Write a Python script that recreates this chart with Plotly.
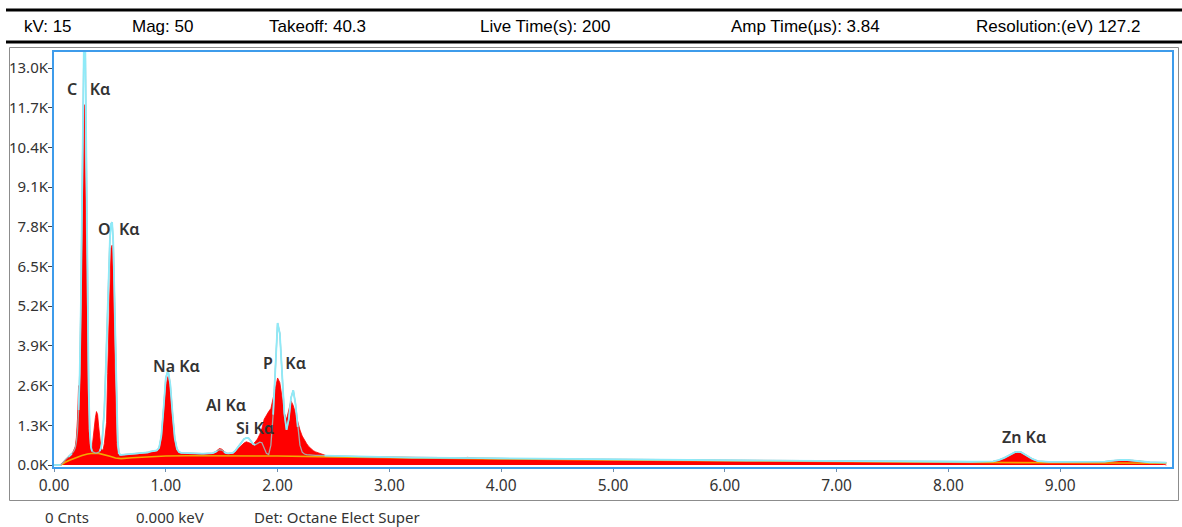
import numpy as np
import plotly.graph_objects as go

# ---------------- data ----------------
# Energy grid pieces (keV)
energy_a = [round(i * 0.01, 2) for i in range(61)]            # 0.00 .. 0.60
energy_b = [round(0.62 + i * 0.02, 2) for i in range(100)]     # 0.62 .. 2.60
energy_c = [2.7, 2.8, 2.9, 3.0, 3.1, 3.2, 3.3, 3.4, 3.5, 3.6, 3.7, 3.8, 3.9, 4.0,
            4.2, 4.4, 4.6, 4.8, 5.0, 5.2, 5.4, 5.6, 5.8, 6.0, 6.2, 6.4, 6.6, 6.8,
            7.0, 7.2, 7.4, 7.6, 7.8, 8.0, 8.2, 8.4, 8.45, 8.5, 8.55, 8.6, 8.65,
            8.7, 8.75, 8.8, 8.85, 8.9, 9.0, 9.1, 9.2, 9.3, 9.4, 9.45, 9.5, 9.55,
            9.6, 9.65, 9.7, 9.75, 9.8, 9.85, 9.9, 9.95]

# Measured spectrum counts (red)
counts_a = [0, 0, 0, 0, 0, 0, 20, 60, 100, 150,
            180, 220, 250, 280, 300, 330, 380, 430, 500, 600,
            900, 1500, 2600, 2100, 4600, 7800, 9100, 11800, 9000, 5200,
            2400, 1200, 700, 500, 550, 900, 1300, 1550, 1750, 1650,
            1250, 850, 550, 480, 520, 700, 1150, 1400, 3000, 4600,
            6200, 7100, 7200, 6300, 3800, 1700, 700, 380, 320, 300,
            300]
counts_b = [320, 330, 330, 340, 340, 350, 350, 360, 360, 370,
            380, 400, 430, 450, 430, 450, 550, 900, 1700, 2600,
            2900, 2500, 1600, 800, 480, 400, 380, 370, 370, 370,
            370, 365, 365, 360, 360, 360, 360, 360, 360, 370,
            380, 420, 470, 540, 520, 440, 390, 370, 360, 380,
            450, 520, 560, 650, 720, 760, 740, 700, 680, 760,
            850, 1000, 1200, 1500, 1650, 1750, 1850, 2200, 2600, 2850,
            2700, 2200, 1700, 1500, 1800, 2100, 1950, 1650, 1350, 1150,
            950, 800, 700, 600, 520, 470, 430, 400, 370, 340,
            320, 300, 290, 282, 276, 272, 268, 265, 262, 260]
counts_c = [255, 262, 245, 240, 235, 230, 226, 222, 218, 214, 250, 208, 204, 200,
            195, 190, 182, 176, 170, 164, 158, 152, 146, 140, 135, 130, 126, 122,
            118, 114, 110, 106, 102, 98, 95, 110, 150, 220, 310, 410, 400,
            300, 190, 120, 105, 115, 92, 90, 88, 86, 90, 100, 120, 130,
            145, 150, 130, 90, 70, 60, 50, 0]

# Fitted spectrum (cyan / grey outline)
fit_a = [0, 0, 0, 0, 0, 0, 0, 40, 90, 130,
         170, 210, 240, 270, 300, 330, 370, 420, 480, 560,
         750, 1100, 1800, 3000, 5200, 8600, 12400, 14600, 13600, 9800,
         5400, 2500, 1100, 600, 450, 420, 400, 390, 390, 400,
         420, 460, 560, 760, 1150, 1800, 2800, 4000, 5300, 6500,
         7400, 7900, 7950, 7300, 5700, 3600, 1800, 800, 420, 340,
         330]
fit_b = [335, 340, 345, 350, 355, 360, 365, 370, 375, 385,
         395, 410, 440, 460, 455, 480, 560, 950, 1850, 2850,
         3100, 2650, 1700, 880, 520, 420, 395, 390, 385, 385,
         385, 380, 380, 378, 376, 375, 375, 375, 375, 380,
         390, 420, 460, 500, 490, 430, 390, 380, 380, 400,
         460, 560, 660, 770, 850, 890, 880, 790, 690, 660,
         710, 750, 730, 560, 380, 340, 650, 1650, 3000, 4650,
         4300, 3000, 1700, 1150, 1500, 2200, 2450, 2000, 1250, 650,
         420, 360, 340, 330, 325, 320, 318, 315, 312, 310,
         308, 306, 304, 300, 297, 294, 291, 288, 285, 282]
fit_c = [275, 268, 262, 256, 250, 245, 240, 236, 232, 228, 226, 222, 218, 214,
         208, 202, 196, 190, 184, 178, 172, 166, 160, 154, 148, 143, 138, 134,
         130, 126, 122, 118, 114, 110, 107, 120, 160, 235, 330, 430, 420,
         310, 200, 130, 110, 104, 100, 98, 96, 95, 110, 135, 160, 170,
         165, 145, 120, 100, 90, 85, 80, 78]

# Background (orange/yellow)
bg_energy = [0.06, 0.10, 0.15, 0.20, 0.25, 0.30, 0.35, 0.40, 0.45, 0.50, 0.55,
             0.60, 0.70, 0.80, 1.0, 1.2, 1.5, 2.0, 2.5, 3.0, 4.0, 5.0, 6.0,
             7.0, 8.0, 9.0, 9.95]
bg_counts = [0, 90, 170, 250, 310, 360, 385, 380, 340, 290, 230,
             210, 240, 265, 295, 305, 310, 295, 265, 240, 200, 165, 135,
             110, 90, 72, 60]

# Peak labels
peak_labels = ["C\u00a0\u00a0\u00a0Kα", "O\u00a0\u00a0Kα", "Na Kα", "Al Kα",
               "Si Kα", "P\u00a0\u00a0\u00a0Kα", "Zn Kα"]

# Axis ticks
x_ticks = [0, 1, 2, 3, 4, 5, 6, 7, 8, 9]
y_ticks = [0, 1300, 2600, 3900, 5200, 6500, 7800, 9100, 10400, 11700, 13000]
y_tick_text = ["0.0K", "1.3K", "2.6K", "3.9K", "5.2K", "6.5K", "7.8K",
               "9.1K", "10.4K", "11.7K", "13.0K"]

# Header / footer text
header_items = ["kV: 15", "Mag: 50", "Takeoff: 40.3", "Live Time(s): 200",
                "Amp Time(µs): 3.84", "Resolution:(eV) 127.2"]
footer_items = ["0 Cnts", "0.000 keV", "Det: Octane Elect Super"]

# ---------------- assemble ----------------
energy = np.array(energy_a + energy_b + energy_c)
counts = np.array(counts_a + counts_b + counts_c, dtype=float)
fit = np.array(fit_a + fit_b + fit_c, dtype=float)
assert len(energy) == len(counts) == len(fit)

# cyan is visible where the fit lies above the measured spectrum
above = fit >= counts
vis = above.copy()
vis[1:] |= above[:-1]
vis[:-1] |= above[1:]
fit_cyan = np.where(vis, fit, np.nan)

# ---------------- layout positions (pixels -> paper) ----------------
W, H = 1182, 527
ML, MR, MT, MB = 54, 10, 52, 60
PW, PH = W - ML - MR, H - MT - MB


def px(x):
    return (x - ML) / PW


def py(y):
    return (H - MB - y) / PH


label_pos = [(0.31, 12310), (0.585, 7730), (1.10, 3240), (1.54, 1965),
             (1.80, 1210), (2.06, 3340), (8.68, 917)]
header_x = [48, 162, 317, 545, 805, 1058]
footer_x = [67, 170, 337]

fig = go.Figure()

fig.add_trace(go.Scatter(
    x=energy, y=counts, mode="lines", fill="tozeroy",
    fillcolor="#FF0000", line=dict(color="#FF0000", width=0.8),
    hoverinfo="skip", showlegend=False))

fig.add_trace(go.Scatter(
    x=bg_energy, y=bg_counts, mode="lines",
    line=dict(color="#F2A900", width=1.6), hoverinfo="skip", showlegend=False))

fig.add_trace(go.Scatter(
    x=energy, y=fit, mode="lines",
    line=dict(color="#A8A8A8", width=1.3), hoverinfo="skip", showlegend=False))

fig.add_trace(go.Scatter(
    x=energy, y=fit_cyan, mode="lines", connectgaps=False,
    line=dict(color="#8EEAF8", width=1.8), hoverinfo="skip", showlegend=False))

annotations = []
for txt, (ex, cy) in zip(peak_labels, label_pos):
    annotations.append(dict(
        x=ex, y=cy, xref="x", yref="y", text=txt, showarrow=False,
        font=dict(family="Noto Sans", size=16, color="#333333", weight=600),
        xanchor="center", yanchor="middle"))

for txt, hx in zip(header_items, header_x):
    annotations.append(dict(
        x=px(hx), y=py(27), xref="paper", yref="paper", text=txt,
        showarrow=False, xanchor="center", yanchor="middle",
        font=dict(family="Liberation Sans", size=17, color="#000000")))

for txt, fx in zip(footer_items, footer_x):
    annotations.append(dict(
        x=px(fx), y=py(517), xref="paper", yref="paper", text=txt,
        showarrow=False, xanchor="center", yanchor="middle",
        font=dict(family="Noto Sans", size=15, color="#333333")))

shapes = [
    dict(type="line", xref="paper", yref="paper", x0=px(6), x1=px(1182),
         y0=py(10), y1=py(10), line=dict(color="#000000", width=3)),
    dict(type="line", xref="paper", yref="paper", x0=px(6), x1=px(1182),
         y0=py(42), y1=py(42), line=dict(color="#000000", width=3)),
    dict(type="rect", xref="paper", yref="paper", x0=px(9.5), x1=px(1178.5),
         y0=py(500.5), y1=py(47.5), line=dict(color="#8C8C8C", width=1),
         layer="below"),
]

fig.update_layout(
    width=W, height=H,
    margin=dict(l=ML, r=MR, t=MT, b=MB, pad=0, autoexpand=False),
    paper_bgcolor="white", plot_bgcolor="white",
    showlegend=False,
    annotations=annotations, shapes=shapes,
    xaxis=dict(range=[0, 10.0], tickvals=x_ticks, tickformat=".2f",
               automargin=False,
               showgrid=False, zeroline=False, showline=True, mirror=True,
               linecolor="#3E9CEB", linewidth=2, ticks="outside", ticklen=3,
               tickcolor="#6F8FB0",
               tickfont=dict(family="Noto Sans", size=15.5, color="#333333")),
    yaxis=dict(range=[-65, 13524], tickvals=y_ticks, ticktext=y_tick_text,
               automargin=False, ticklabelstandoff=-3,
               showgrid=False, zeroline=False, showline=True, mirror=True,
               linecolor="#3E9CEB", linewidth=2, ticks="outside", ticklen=4,
               tickcolor="#444444",
               tickfont=dict(family="Noto Sans", size=15, color="#333333")),
)

fig.write_html("out.html",
               config={"displayModeBar": False},
               post_script="document.body.style.margin='0';"
                           "document.body.style.padding='0';")
